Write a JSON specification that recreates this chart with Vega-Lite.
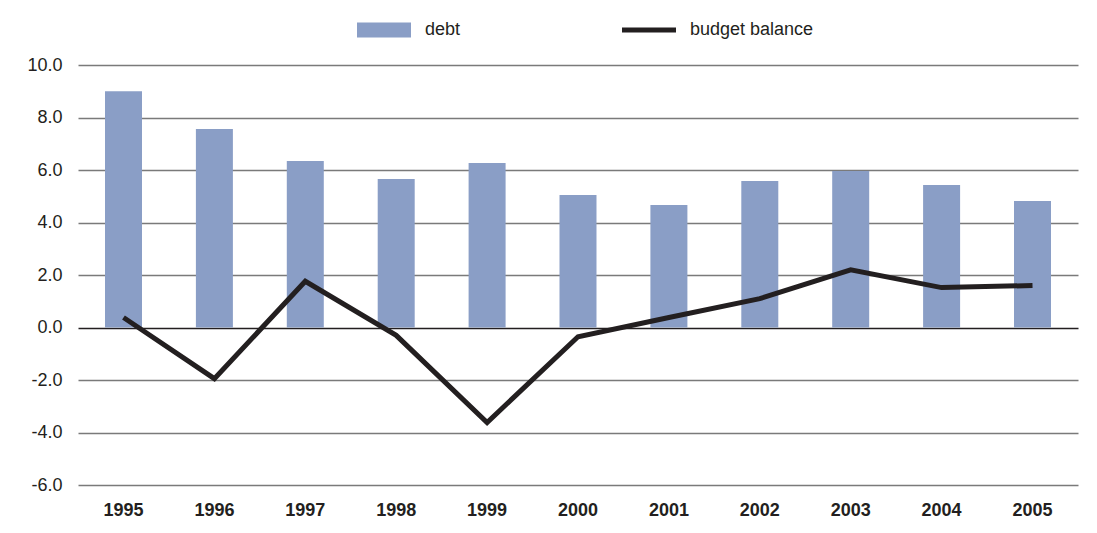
{
  "$schema": "https://vega.github.io/schema/vega-lite/v6.json",
  "width": 1000,
  "height": 420,
  "autosize": {"type": "none"},
  "padding": {"left": 78, "top": 65, "right": 19, "bottom": 48},
  "background": "#ffffff",
  "config": {
    "view": {"stroke": null},
    "font": "Liberation Sans"
  },
  "data": {
    "values": [
      {"year": "1995", "series": "debt", "value": 9.0},
      {"year": "1996", "series": "debt", "value": 7.56},
      {"year": "1997", "series": "debt", "value": 6.34},
      {"year": "1998", "series": "debt", "value": 5.66},
      {"year": "1999", "series": "debt", "value": 6.27},
      {"year": "2000", "series": "debt", "value": 5.05},
      {"year": "2001", "series": "debt", "value": 4.67},
      {"year": "2002", "series": "debt", "value": 5.58},
      {"year": "2003", "series": "debt", "value": 5.96},
      {"year": "2004", "series": "debt", "value": 5.43},
      {"year": "2005", "series": "debt", "value": 4.82},
      {"year": "1995", "series": "budget balance", "value": 0.38},
      {"year": "1996", "series": "budget balance", "value": -1.95},
      {"year": "1997", "series": "budget balance", "value": 1.76},
      {"year": "1998", "series": "budget balance", "value": -0.3},
      {"year": "1999", "series": "budget balance", "value": -3.62},
      {"year": "2000", "series": "budget balance", "value": -0.35},
      {"year": "2001", "series": "budget balance", "value": 0.38},
      {"year": "2002", "series": "budget balance", "value": 1.1},
      {"year": "2003", "series": "budget balance", "value": 2.2},
      {"year": "2004", "series": "budget balance", "value": 1.52},
      {"year": "2005", "series": "budget balance", "value": 1.6}
    ]
  },
  "encoding": {
    "x": {
      "field": "year",
      "type": "nominal",
      "sort": null,
      "scale": {"paddingInner": 0.593, "paddingOuter": 0.297},
      "axis": {
        "title": null,
        "labelAngle": 0,
        "labelFontWeight": "bold",
        "labelFontSize": 18,
        "labelColor": "#231f20",
        "labelPadding": 16,
        "ticks": false,
        "domain": false
      }
    },
    "y": {
      "field": "value",
      "type": "quantitative",
      "scale": {"domain": [-6, 10], "nice": false, "zero": false},
      "axis": {
        "title": null,
        "values": [-6, -4, -2, 0, 2, 4, 6, 8, 10],
        "labelExpr": "replace(format(datum.value, '.1f'), '\u2212', '-')",
        "labelFontSize": 18,
        "labelColor": "#231f20",
        "labelPadding": 16,
        "ticks": false,
        "domain": false,
        "grid": true,
        "gridColor": {"condition": {"test": "datum.value === 0", "value": "#231f20"}, "value": "#7a7a7a"},
        "gridWidth": 1.3
      }
    },
    "color": {
      "field": "series",
      "type": "nominal",
      "scale": {"domain": ["debt", "budget balance"], "range": ["#8a9ec6", "#231f20"]},
      "legend": {
        "title": null,
        "orient": "none",
        "direction": "horizontal",
        "legendX": 279,
        "legendY": -62,
        "labelFontSize": 18,
        "labelColor": "#231f20",
        "labelOffset": 14,
        "columnPadding": 161,
        "symbolSize": 2916,
        "encode": {
          "symbols": {
            "update": {
              "shape": {"signal": "datum.value === 'debt' ? 'M-1,-0.28H1V0.28H-1Z' : 'M-1,-0.09H1V0.09H-1Z'"},
              "fill": {"scale": "color", "field": "value"},
              "stroke": {"value": "transparent"},
              "strokeWidth": {"value": 0},
              "opacity": {"value": 1},
              "fillOpacity": {"value": 1}
            }
          }
        }
      }
    }
  },
  "layer": [
    {
      "transform": [{"filter": "datum.series === 'debt'"}],
      "mark": {"type": "bar", "opacity": 1}
    },
    {
      "transform": [{"filter": "datum.series === 'budget balance'"}],
      "mark": {"type": "line", "strokeWidth": 5, "strokeJoin": "miter", "strokeCap": "butt"}
    }
  ]
}
